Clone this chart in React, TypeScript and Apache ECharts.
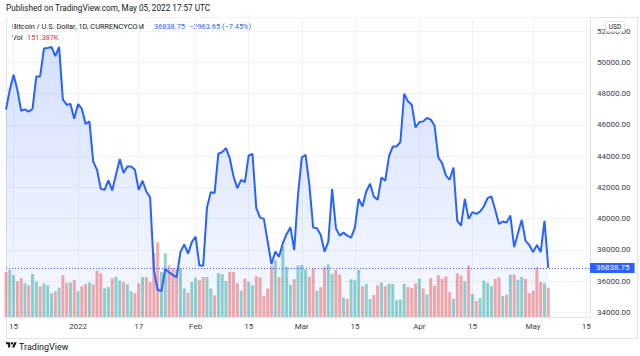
import React, { useEffect, useRef } from "react";
import * as echarts from "echarts";

// ---------- data ----------
const FIRST_DAY_UTC = Date.UTC(2021, 11, 13); // Dec 13, 2021
const AXIS_DAY_COUNT = 155; // Dec 13, 2021 .. May 16, 2022

const DATE_TICKS: [string, string][] = [
  ["2021-12-15", "15"],
  ["2022-01-01", "2022"],
  ["2022-01-17", "17"],
  ["2022-02-01", "Feb"],
  ["2022-02-15", "15"],
  ["2022-03-01", "Mar"],
  ["2022-03-15", "15"],
  ["2022-04-01", "Apr"],
  ["2022-04-15", "15"],
  ["2022-05-01", "May"],
  ["2022-05-15", "15"],
];

const PRICE_MIN = 33700;
const PRICE_MAX = 52900;
const PRICE_STEP = 2000;
const VOLUME_AXIS_MAX = 1550;

// daily close, Dec 13, 2021 .. May 5, 2022
const CLOSE = [
  46970, 48250, 49210, 48250, 46900, 46990, 46840, 47030, 49100, 49100,
  50880, 50920, 50990, 50390, 50990, 47610, 47290, 47330, 46390, 47330,
  47030, 46050, 46220, 43650, 43120, 41900, 41840, 42440, 41800, 42800,
  43810, 42910, 43330, 43330, 43120, 41840, 42420, 41730, 41370, 36700,
  35430, 35370, 36780, 36560, 36390, 36240, 37850, 38350, 37760, 38490,
  38850, 36990, 36990, 40710, 41690, 41630, 44150, 44250, 44510, 43870,
  42690, 41950, 42480, 42330, 44040, 44130, 40670, 40060, 39980, 38530,
  37080, 37880, 37560, 38420, 39000, 39450, 37990, 41520, 43910, 44080,
  42160, 39420, 39380, 38950, 37880, 38530, 41900, 39380, 38910, 39100,
  38910, 38780, 39420, 41260, 40770, 41730, 42230, 41410, 41200, 42630,
  42420, 43980, 44620, 44620, 44900, 47990, 47500, 47290, 45830, 46180,
  46220, 46440, 46330, 45960, 43910, 43550, 42760, 42480, 43270, 39850,
  39550, 41260, 39980, 40410, 40300, 40450, 40770, 41310, 41410, 40560,
  39660, 39810, 39740, 40190, 38170, 39060, 39920, 38570, 38310, 37850,
  38310, 37850, 39850, 36838.75,
];

// volume in thousands
const VOLUME_K = [
  233, 243, 216, 185, 200, 174, 164, 222, 183, 159,
  174, 164, 123, 133, 152, 216, 178, 178, 190, 133,
  159, 171, 178, 169, 240, 226, 148, 154, 200, 207,
  188, 181, 169, 133, 123, 174, 207, 207, 181, 331,
  386, 233, 328, 267, 252, 250, 252, 148, 126, 181,
  203, 190, 207, 207, 148, 112, 226, 222, 185, 233,
  233, 174, 136, 198, 181, 164, 210, 205, 110, 147,
  262, 293, 207, 365, 260, 167, 195, 266, 269, 247,
  210, 252, 135, 154, 257, 272, 222, 243, 219, 100,
  93, 195, 190, 243, 159, 171, 93, 114, 164, 178,
  159, 171, 172, 88, 90, 171, 155, 150, 174, 198,
  147, 117, 200, 162, 216, 197, 210, 128, 93, 226,
  214, 185, 266, 119, 83, 97, 188, 176, 159, 197,
  205, 109, 116, 219, 219, 193, 207, 197, 123, 136,
  257, 181, 174, 151.387,
];

// u = up day (teal), d = down day (red)
const VOLUME_SIDE = [
  "duudduduud", "uuududdudu", "dduddduudu", "uduudduddd", "duuddduudu",
  "udduuduuud", "dduduudddd", "duduuuduuu", "ddudduuddu", "duuuduuddu",
  "duuuuudddu", "duddddddud", "dududuuuud", "dududuuddd", "ddud",
].join("");

const LAST_PRICE = 36838.75;
const CHANGE_TEXT = "\u22122963.65 (\u22127.45%)";
const LAST_VOL_TEXT = "151.387K";

// ---------- helpers ----------
const DATES = Array.from({ length: AXIS_DAY_COUNT }, (_, i) =>
  new Date(FIRST_DAY_UTC + i * 86400000).toISOString().slice(0, 10)
);
const TICK_MAP = new Map<string, string>(DATE_TICKS);

const FONT = "Roboto";
const TEXT_COLOR = "#131722";
const AXIS_TEXT = "#3d404b";
const GRID_COLOR = "#f0f3fa";
const BORDER_COLOR = "#e0e3eb";
const BLUE = "#2962FF";

let logoRegistered = false;
function registerLogo() {
  if (logoRegistered) return;
  echarts.graphic.registerShape(
    "tvlogo",
    echarts.graphic.extendPath("M14 22H7V11H0V4h14v18zM28 22h-8l7.5-18h8L28 22z", {}) as any
  );
  logoRegistered = true;
}

export default function App() {
  const ref = useRef<HTMLDivElement>(null);

  useEffect(() => {
    if (!ref.current) return;
    registerLogo();
    const chart = echarts.init(ref.current, undefined, { renderer: "svg" });
    const logoScale = 0.3;
    const logoX = 6;
    const logoY = 341;
    const legendSize = 7.4;

    chart.setOption({
      animation: false,
      backgroundColor: "#ffffff",
      textStyle: { fontFamily: FONT },
      grid: { left: 6, top: 17, width: 584, height: 300, containLabel: false },
      xAxis: {
        type: "category",
        data: DATES,
        boundaryGap: false,
        axisLine: { show: true, lineStyle: { color: BORDER_COLOR } },
        axisTick: { show: false },
        axisLabel: {
          interval: (_i: number, v: string) => TICK_MAP.has(v),
          formatter: (v: string) => TICK_MAP.get(v) ?? "",
          fontSize: 8,
          fontFamily: FONT,
          color: AXIS_TEXT,
          margin: 5,
        },
        splitLine: {
          show: true,
          interval: (_i: number, v: string) => TICK_MAP.has(v),
          lineStyle: { color: GRID_COLOR, width: 1 },
        },
      },
      yAxis: [
        {
          type: "value",
          position: "right",
          min: PRICE_MIN,
          max: PRICE_MAX,
          splitNumber: 10,
          axisLine: { show: true, lineStyle: { color: BORDER_COLOR } },
          axisTick: { show: false },
          axisLabel: {
            formatter: (v: number) => (v % PRICE_STEP === 0 ? v.toFixed(2) : ""),
            fontSize: 8,
            fontFamily: FONT,
            color: AXIS_TEXT,
            margin: 7,
          },
          splitLine: { show: true, lineStyle: { color: GRID_COLOR, width: 1 } },
        },
        {
          type: "value",
          min: 0,
          max: VOLUME_AXIS_MAX,
          show: false,
          splitLine: { show: false },
        },
      ],
      series: [
        {
          type: "bar",
          name: "Vol",
          yAxisIndex: 1,
          barWidth: 3,
          silent: true,
          z: 1,
          data: VOLUME_K.map((v, i) => ({
            value: v,
            itemStyle: {
              color: VOLUME_SIDE[i] === "u" ? "rgba(38,166,154,0.5)" : "rgba(239,83,80,0.5)",
            },
          })),
        },
        {
          type: "line",
          name: "BTCUSD",
          data: CLOSE,
          symbol: "none",
          silent: true,
          z: 2,
          lineStyle: { color: BLUE, width: 2 },
          areaStyle: {
            origin: "start",
            color: new echarts.graphic.LinearGradient(0, 0, 0, 1, [
              { offset: 0, color: "rgba(41,98,255,0.28)" },
              { offset: 1, color: "rgba(41,98,255,0.05)" },
            ]),
          },
          markLine: {
            silent: true,
            symbol: ["none", "none"],
            lineStyle: { color: BLUE, type: [1, 2], width: 1 },
            label: {
              show: true,
              position: "end",
              distance: 0,
              formatter: () => LAST_PRICE.toFixed(2),
              color: "#ffffff",
              backgroundColor: BLUE,
              padding: [1, 5, 1, 6],
              fontSize: 8,
              fontFamily: FONT,
            },
            data: [{ yAxis: LAST_PRICE }],
          },
        },
      ],
      graphic: [
        {
          type: "rect",
          z: 0,
          shape: { x: 6.5, y: 17.5, width: 631, height: 321 },
          style: { fill: "none", stroke: BORDER_COLOR, lineWidth: 1 },
        },
        {
          type: "text",
          x: 6,
          y: 8,
          style: {
            text: "Published on TradingView.com, May 05, 2022 17:57 UTC",
            fill: TEXT_COLOR,
            fontSize: 8.2,
            fontFamily: FONT,
            verticalAlign: "middle",
          },
        },
        {
          type: "text",
          x: 12,
          y: 26,
          style: {
            text: "Bitcoin / U.S. Dollar, 1D, CURRENCYCOM",
            fill: TEXT_COLOR,
            fontSize: legendSize,
            fontFamily: FONT,
            verticalAlign: "middle",
          },
        },
        {
          type: "text",
          x: 154,
          y: 26,
          style: { text: LAST_PRICE.toFixed(2), fill: BLUE, fontSize: legendSize, fontFamily: FONT, verticalAlign: "middle" },
        },
        {
          type: "text",
          x: 189,
          y: 26,
          style: { text: CHANGE_TEXT, fill: BLUE, fontSize: legendSize, fontFamily: FONT, verticalAlign: "middle" },
        },
        {
          type: "text",
          x: 12,
          y: 37,
          style: { text: "Vol", fill: TEXT_COLOR, fontSize: legendSize, fontFamily: FONT, verticalAlign: "middle" },
        },
        {
          type: "text",
          x: 27,
          y: 37,
          style: { text: LAST_VOL_TEXT, fill: "#f23645", fontSize: legendSize, fontFamily: FONT, verticalAlign: "middle" },
        },
        {
          type: "group",
          z: 100,
          children: [
            {
              type: "rect",
              shape: { x: 605.5, y: 21.5, width: 19, height: 10, r: 2 },
              style: { fill: "#ffffff", stroke: BORDER_COLOR, lineWidth: 1 },
              z: 100,
            },
            {
              type: "text",
              x: 615,
              y: 26.5,
              z: 101,
              style: {
                text: "USD",
                fill: TEXT_COLOR,
                fontSize: 6.5,
                fontFamily: FONT,
                align: "center",
                verticalAlign: "middle",
              },
            },
          ],
        },
        {
          type: "tvlogo",
          x: logoX,
          y: logoY,
          scaleX: logoScale,
          scaleY: logoScale,
          style: { fill: TEXT_COLOR },
        },
        {
          type: "circle",
          shape: { cx: logoX + 20 * logoScale, cy: logoY + 8 * logoScale, r: 4 * logoScale },
          style: { fill: TEXT_COLOR },
        },
        {
          type: "text",
          x: 19,
          y: 346.5,
          style: { text: "TradingView", fill: TEXT_COLOR, fontSize: 9, fontFamily: FONT, verticalAlign: "middle" },
        },
      ],
    });

    return () => chart.dispose();
  }, []);

  return (
    <div
      ref={ref}
      style={{ position: "fixed", left: 0, top: 0, width: 640, height: 356, background: "#fff" }}
    />
  );
}
